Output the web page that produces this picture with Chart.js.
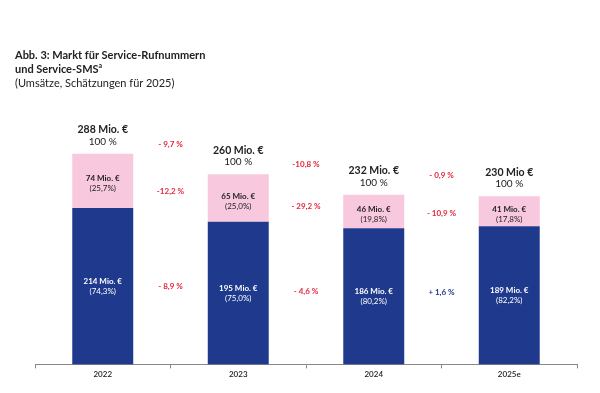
<!DOCTYPE html>
<html>
<head>
<meta charset="utf-8">
<script src="https://cdn.jsdelivr.net/npm/chart.js@4.4.1/dist/chart.umd.min.js"></script>
<style>
    html, body { margin: 0; padding: 0; background: #fff; }
    #wrap { position: relative; width: 600px; height: 393px; }
    #title {
        position: absolute; left: 15px; top: 48px;
        font-family: Lato, sans-serif; font-size: 11px; line-height: 14px; color: #222;
    }
    #title b { font-weight: 700; }
    #title sup { font-size: 7px; line-height: 0; }
</style>
</head>
<body>
<div id="wrap">
    <canvas id="umsatzChart" width="600" height="393"></canvas>
    <div id="title"><b>Abb. 3: Markt für Service-Rufnummern<br>und Service-SMS<sup>a</sup></b><br>(Umsätze, Schätzungen für 2025)</div>
</div>
<script>
// Daten aus der Abbildung
const years = ['2022', '2023', '2024', '2025e'];
const bottomValues = [214, 195, 186, 189];
const topValues = [74, 65, 46, 41];
const totalLabels = ['288 Mio. €', '260 Mio. €', '232 Mio. €', '230 Mio €'];
const bottomShares = ['(74,3%)', '(75,0%)', '(80,2%)', '(82,2%)'];
const topShares = ['(25,7%)', '(25,0%)', '(19,8%)', '(17,8%)'];
const totalChanges = ['- 9,7 %', '-10,8 %', '- 0,9 %'];
const topChanges = ['-12,2 %', '- 29,2 %', '- 10,9 %'];
const bottomChanges = ['- 8,9 %', '- 4,6 %', '+ 1,6 %'];

const BLUE = '#1f3a8d';
const PINK = '#f7c8de';
const RED = '#e6233a';
const FONT = 'Lato, sans-serif';

const labelPlugin = {
    id: 'labels',
    afterDatasetsDraw(chart) {
        const ctx = chart.ctx;
        const bottomBars = chart.getDatasetMeta(0).data;
        const topBars = chart.getDatasetMeta(1).data;
        ctx.save();
        ctx.textAlign = 'center';
        ctx.textBaseline = 'middle';

        years.forEach((y, i) => {
            const b = bottomBars[i];
            const t = topBars[i];
            // Summe oben
            ctx.fillStyle = '#222';
            ctx.font = 'bold 10.5px ' + FONT;
            ctx.fillText(totalLabels[i], t.x, t.y - 24);
            ctx.font = '10px ' + FONT;
            ctx.fillText('100 %', t.x, t.y - 12);

            // rosa Segment
            const tMid = (t.y + t.base) / 2;
            ctx.font = 'bold 8px ' + FONT;
            ctx.fillText(topValues[i] + ' Mio. €', t.x, tMid - 2);
            ctx.font = '8px ' + FONT;
            ctx.fillText(topShares[i], t.x, tMid + 8);

            // blaues Segment
            const bMid = (b.y + b.base) / 2;
            ctx.fillStyle = '#fff';
            ctx.font = 'bold 8px ' + FONT;
            ctx.fillText(bottomValues[i] + ' Mio. €', b.x, bMid - 5);
            ctx.font = '8px ' + FONT;
            ctx.fillText(bottomShares[i], b.x, bMid + 5);
        });

        // Veränderungen zwischen den Balken
        ctx.font = 'bold 8px ' + FONT;
        for (let i = 0; i < years.length - 1; i++) {
            const b0 = bottomBars[i], b1 = bottomBars[i + 1];
            const t0 = topBars[i], t1 = topBars[i + 1];
            const x = (b0.x + b1.x) / 2;
            const rows = [
                [totalChanges[i], (t0.y + t1.y) / 2 - 20],
                [topChanges[i], ((t0.y + t0.base) / 2 + (t1.y + t1.base) / 2) / 2 + 2],
                [bottomChanges[i], ((b0.y + b0.base) / 2 + (b1.y + b1.base) / 2) / 2 - 3]
            ];
            rows.forEach(([txt, yy]) => {
                ctx.fillStyle = txt.trim().startsWith('+') ? BLUE : RED;
                ctx.fillText(txt, x, yy);
            });
        }
        ctx.restore();
    }
};

new Chart(document.getElementById('umsatzChart'), {
    type: 'bar',
    data: {
        labels: years,
        datasets: [{
            data: bottomValues,
            backgroundColor: BLUE,
            categoryPercentage: 1,
            barPercentage: 0.45
        }, {
            data: topValues,
            backgroundColor: PINK,
            categoryPercentage: 1,
            barPercentage: 0.45
        }]
    },
    options: {
        responsive: false,
        animation: false,
        layout: { padding: { left: 35, right: 23, top: 145, bottom: 13 } },
        plugins: { legend: { display: false }, tooltip: { enabled: false } },
        scales: {
            x: {
                stacked: true,
                offset: true,
                grid: {
                    offset: true,
                    drawOnChartArea: false,
                    drawTicks: true,
                    tickLength: 4,
                    color: '#888'
                },
                border: { display: true, color: '#888', width: 1 },
                ticks: {
                    color: '#222',
                    font: { family: FONT, size: 8, weight: '600' },
                    padding: 1
                }
            },
            y: {
                stacked: true,
                display: false,
                min: 0,
                max: 300
            }
        }
    },
    plugins: [labelPlugin]
});
</script>
</body>
</html>
